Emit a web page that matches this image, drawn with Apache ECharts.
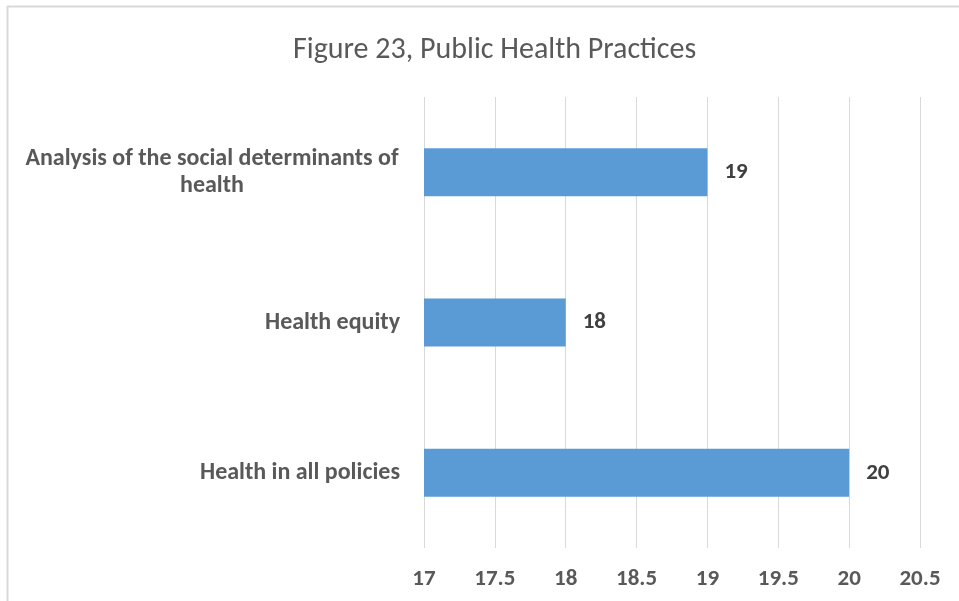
<!DOCTYPE html>
<html>
<head>
<meta charset="utf-8">
<script src="https://cdn.jsdelivr.net/npm/echarts@6/dist/echarts.min.js"></script>
<style>
  html, body { margin: 0; padding: 0; background: #fff; }
  #main { width: 959px; height: 601px; }
</style>
</head>
<body>
<div id="main"></div>
<script>
// 分类（从下到上）
const categories = ['Health in all policies', 'Health equity', 'Analysis of the social determinants of\nhealth'];
// 数值
const values = [20, 18, 19];
// x轴刻度
const xMin = 17;
const xMax = 20.5;
const xStep = 0.5;

const font = "'Carlito', 'Liberation Sans Narrow', 'Liberation Sans', sans-serif";

var myChart = echarts.init(document.getElementById('main'));

const option = {
  backgroundColor: '#fff',
  title: {
    text: 'Figure 23, Public Health Practices',
    left: 288,
    top: 30,
    textStyle: {
      fontFamily: font,
      fontSize: 30,
      fontWeight: 'normal',
      color: '#595959'
    }
  },
  graphic: [
    { type: 'line', shape: { x1: 7, y1: 6.5, x2: 959, y2: 6.5 }, style: { stroke: '#d9d9d9', lineWidth: 2 } },
    { type: 'line', shape: { x1: 7.5, y1: 6, x2: 7.5, y2: 601 }, style: { stroke: '#d9d9d9', lineWidth: 2 } }
  ],
  grid: {
    left: 424,
    right: 39,
    top: 97,
    bottom: 53
  },
  xAxis: {
    type: 'value',
    min: xMin,
    max: xMax,
    interval: xStep,
    axisLine: { show: false },
    axisTick: { show: false },
    splitLine: { lineStyle: { color: '#d9d9d9', width: 1 } },
    axisLabel: {
      margin: 20,
      fontFamily: font,
      fontSize: 23,
      fontWeight: 'bold',
      color: '#595959'
    }
  },
  yAxis: {
    type: 'category',
    data: categories,
    axisLine: { show: false },
    axisTick: { show: false },
    axisLabel: {
      margin: 24,
      formatter: function (v) {
        // 多行标签居中
        if (v.indexOf('\n') >= 0) {
          return v.split('\n').map(s => '{c|' + s + '}').join('\n');
        }
        return v;
      },
      rich: {
        c: {
          width: 376,
          align: 'center',
          fontFamily: font,
          fontSize: 24,
          fontWeight: 'bold',
          color: '#595959',
          lineHeight: 27
        }
      },
      fontFamily: font,
      fontSize: 24,
      fontWeight: 'bold',
      color: '#595959'
    }
  },
  series: [
    {
      type: 'bar',
      data: values,
      barWidth: 48,
      itemStyle: { color: '#5B9BD5' },
      label: {
        show: true,
        position: 'right',
        distance: 17,
        fontFamily: font,
        fontSize: 23,
        fontWeight: 'bold',
        color: '#404040'
      }
    }
  ]
};

myChart.setOption(option);
</script>
</body>
</html>
